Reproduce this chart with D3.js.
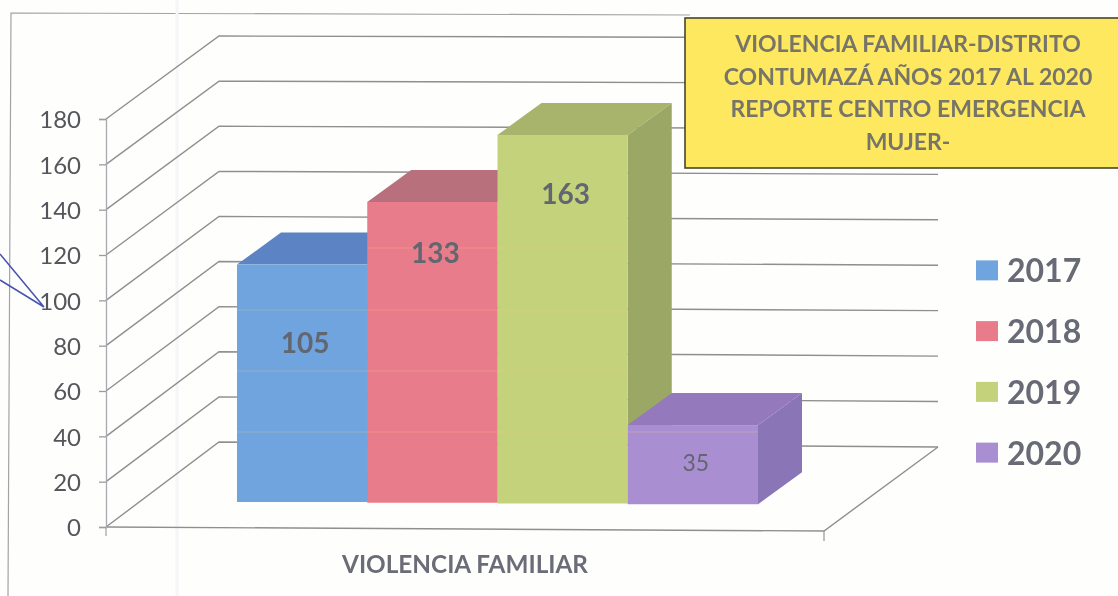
<!DOCTYPE html>
<html>
<head>
<meta charset="utf-8">
<script src="https://cdn.jsdelivr.net/npm/d3@7"></script>
<style>
	body { margin: 0; background: #fefefd; }
	svg { display: block; font-family: Lato, "Open Sans", sans-serif; }
</style>
</head>
<body>
<div id="chart-area"></div>
<script>
// chart data
let years = ["2017", "2018", "2019", "2020"];
let cases = [105, 133, 163, 35];
let yTicks = [0, 20, 40, 60, 80, 100, 120, 140, 160, 180];
let categoryLabel = "VIOLENCIA FAMILIAR";
let titleLines = ["VIOLENCIA FAMILIAR-DISTRITO", "CONTUMAZÁ AÑOS 2017 AL 2020", "REPORTE CENTRO EMERGENCIA", "MUJER-"];

let frontColors = ["#6fa4de", "#e97b8b", "#c4d27c", "#a98ed2"];
let topColors = ["#5b84c4", "#b8707c", "#a8b36c", "#9479bd"];
let sideColors = ["#5b84c4", "#b8707c", "#9ba765", "#8a74b6"];

let width = 1118, height = 596;

let svg = d3.select("#chart-area").append("svg")
	.attr("width", width)
	.attr("height", height);

// the scan is a bit soft
let defs = svg.append("defs");
defs.append("filter").attr("id", "soft").append("feGaussianBlur").attr("stdDeviation", 0.5);

let chart = svg.append("g").attr("filter", "url(#soft)");

// value scales: front wall edge, back wall left edge, back wall right edge
let yFront = d3.scaleLinear().domain([0, 180]).range([527, 119]);
let yBackLeft = d3.scaleLinear().domain([0, 180]).range([442, 36]);
let yBackRight = d3.scaleLinear().domain([0, 180]).range([447, 38]);

let frontX = 106, backX = 219, rightX = 938, floorRightX = 824, floorRightY = 531;

// page and scan marks
chart.append("path")
	.attr("d", "M8,596L11,13L690,15")
	.attr("fill", "none").attr("stroke", "#a3a3a3").attr("stroke-width", 1.2);
chart.append("line")
	.attr("x1", 177).attr("x2", 177).attr("y1", 0).attr("y2", height)
	.attr("stroke", "#f6f6f8").attr("stroke-width", 3);

// walls + gridlines
let line = d3.line();
chart.selectAll(".grid")
	.data(yTicks)
	.enter()
	.append("path")
	.attr("class", "grid")
	.attr("d", d => line([[frontX, yFront(d)], [backX, yBackLeft(d)], [rightX, yBackRight(d)]]))
	.attr("fill", "none")
	.attr("stroke", "#8f8f8f")
	.attr("stroke-width", 1.4);

// floor
chart.append("path")
	.attr("d", line([[frontX, yFront(0)], [floorRightX, floorRightY], [rightX, yBackRight(0)]]))
	.attr("fill", "none")
	.attr("stroke", "#8f8f8f")
	.attr("stroke-width", 1.4);
chart.append("line")
	.attr("x1", floorRightX).attr("x2", floorRightX)
	.attr("y1", floorRightY).attr("y2", floorRightY + 10)
	.attr("stroke", "#9c9c9c").attr("stroke-width", 1.3);
chart.append("line")
	.attr("x1", frontX).attr("x2", frontX)
	.attr("y1", yFront(0)).attr("y2", yFront(0) + 9)
	.attr("stroke", "#a8a8a8").attr("stroke-width", 1.3);

// y axis
let yAxisGroup = chart.append("g")
	.attr("transform", "translate(" + frontX + ",0)")
	.call(d3.axisLeft(yFront).tickValues(yTicks).tickSize(7).tickPadding(18));
yAxisGroup.select(".domain").attr("stroke", "#a8a8b0").attr("stroke-width", 1.3);
yAxisGroup.selectAll(".tick line").attr("stroke", "#9c9c9c").attr("stroke-width", 1.3);
yAxisGroup.selectAll("text")
	.attr("font-size", 24)
	.attr("font-family", "Lato, sans-serif")
	.attr("fill", "#55565c")
	.attr("y", 1);

// bars
let xBar = d3.scaleBand().domain(years).range([237, 758]);
let barBase = d3.scaleLinear().domain([237, 758]).range([502, 505]);
let barHeight = d3.scaleLinear().domain([0, 180]).range([0, 407]);
let depthX = 44, depthY = 32;
let labelPosition = [0.33, 0.17, 0.16, 0.48];

let bars = chart.selectAll(".bar")
	.data(years.map((year, i) => ({year: year, value: cases[i], i: i})))
	.enter()
	.append("g")
	.attr("class", "bar");

bars.append("path")
	.attr("fill", d => sideColors[d.i])
	.attr("d", d => {
		let x = xBar(d.year) + xBar.bandwidth(), base = barBase(xBar(d.year)), top = base - barHeight(d.value);
		return line([[x, base], [x + depthX, base - depthY], [x + depthX, top - depthY], [x, top]]) + "Z";
	});

bars.append("path")
	.attr("fill", d => topColors[d.i])
	.attr("d", d => {
		let x = xBar(d.year), w = xBar.bandwidth(), top = barBase(x) - barHeight(d.value);
		return line([[x, top], [x + depthX, top - depthY], [x + w + depthX, top - depthY], [x + w, top]]) + "Z";
	});

bars.append("rect")
	.attr("fill", d => frontColors[d.i])
	.attr("x", d => xBar(d.year))
	.attr("y", d => barBase(xBar(d.year)) - barHeight(d.value))
	.attr("width", xBar.bandwidth())
	.attr("height", d => barHeight(d.value));

// faint warm streaks the scanner left across the bars
[248, 310, 371, 432].forEach(y => {
	bars.filter(d => barBase(xBar(d.year)) - barHeight(d.value) < y)
		.append("line")
		.attr("x1", d => xBar(d.year))
		.attr("x2", d => xBar(d.year) + xBar.bandwidth())
		.attr("y1", y).attr("y2", y)
		.attr("stroke", "#f5c98a")
		.attr("stroke-opacity", 0.15)
		.attr("stroke-width", 2);
});

bars.append("text")
	.attr("x", d => xBar(d.year) + xBar.bandwidth() / 2 + 3)
	.attr("y", d => barBase(xBar(d.year)) - barHeight(d.value) * (1 - labelPosition[d.i]))
	.attr("dy", "0.35em")
	.attr("text-anchor", "middle")
	.attr("font-size", d => d.value < 50 ? 23 : 28)
	.attr("font-weight", d => d.value < 50 ? 400 : 700)
	.attr("fill", "#62666f")
	.text(d => d.value);

// category label
chart.append("text")
	.attr("x", 465).attr("y", 573)
	.attr("text-anchor", "middle")
	.attr("font-size", 24.3)
	.attr("font-weight", 700)
	.attr("fill", "#6a6d78")
	.text(categoryLabel);

// title box
chart.append("rect")
	.attr("x", 685).attr("y", 18)
	.attr("width", 440).attr("height", 150)
	.attr("fill", "#fde85e")
	.attr("stroke", "#45452c")
	.attr("stroke-width", 1.6);

let titleY = d3.scaleLinear().domain([0, 3]).range([52, 150]);
chart.selectAll(".title-line")
	.data(titleLines)
	.enter()
	.append("text")
	.attr("class", "title-line")
	.attr("x", 908)
	.attr("y", (d, i) => titleY(i))
	.attr("text-anchor", "middle")
	.attr("font-size", 23)
	.attr("font-weight", 700)
	.attr("fill", "#77746a")
	.text(d => d);

// legend
let legendY = d3.scaleBand().domain(years).range([240, 483]);
let legend = chart.selectAll(".legend")
	.data(years)
	.enter()
	.append("g")
	.attr("class", "legend")
	.attr("transform", d => "translate(0," + (legendY(d) + legendY.bandwidth() / 2) + ")");

legend.append("rect")
	.attr("x", 976).attr("y", -10)
	.attr("width", 22).attr("height", 20)
	.attr("fill", (d, i) => frontColors[i]);

legend.append("text")
	.attr("x", 1007).attr("y", 12)
	.attr("font-size", 32)
	.attr("font-weight", 700)
	.attr("fill", "#686a75")
	.text(d => d);

// pen marks on the left
chart.append("path")
	.attr("d", "M0,254L44,307M0,280L44,307")
	.attr("fill", "none")
	.attr("stroke", "#4a52b0")
	.attr("stroke-width", 1.5);
</script>
</body>
</html>
